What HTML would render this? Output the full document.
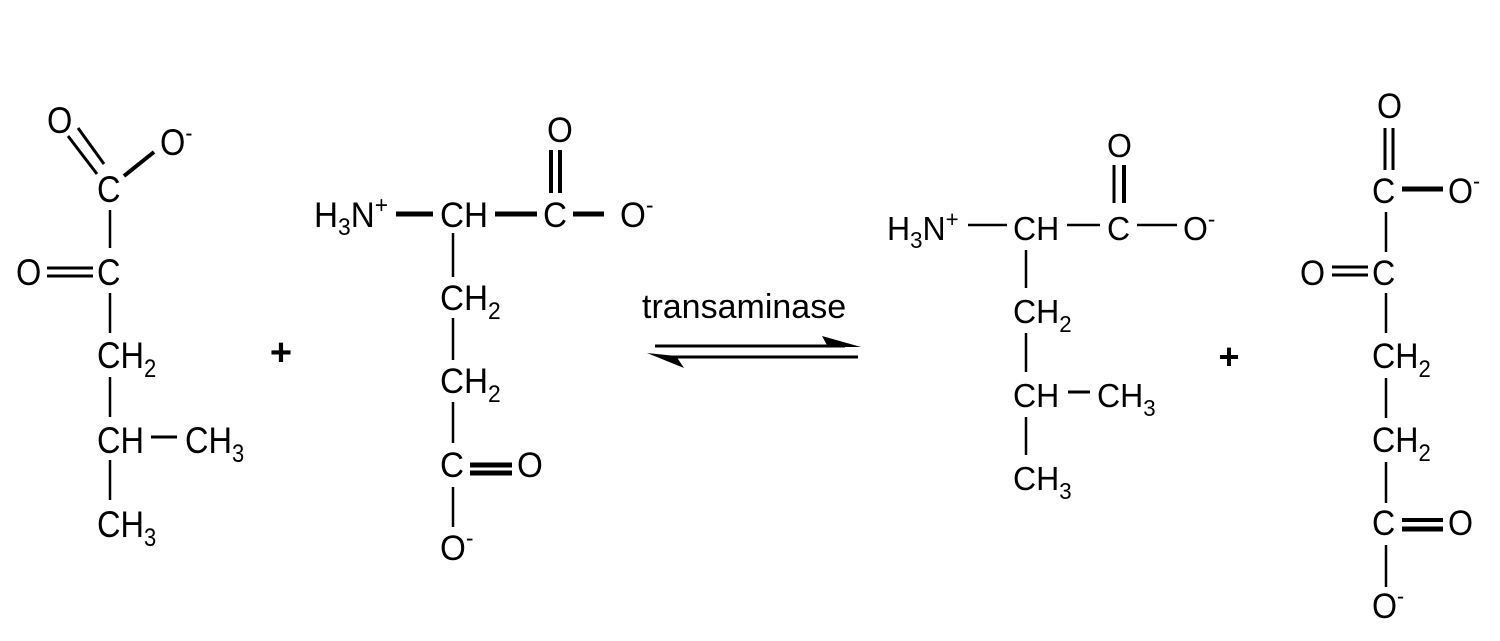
<!DOCTYPE html>
<html><head><meta charset="utf-8"><style>
html,body{margin:0;padding:0;background:#fff;}
svg{display:block;}
text{font-family:"Liberation Sans",Arial,sans-serif;fill:#000;}
.a text{font-size:37px;}
.b text{font-size:35px;}
.c text{font-size:33px;}
.d text{font-size:35px;}
line{stroke:#000;stroke-linecap:butt;}
</style></head><body>
<svg width="1500" height="641" viewBox="0 0 1500 641" xmlns="http://www.w3.org/2000/svg">
<rect width="1500" height="641" fill="#fff"/>

<!-- Molecule 1 -->
<g class="a">
<text transform="translate(47 133) scale(.88 1)">O</text>
<text transform="translate(160 155) scale(.88 1)">O<tspan font-size="24" dy="-14">-</tspan></text>
<text transform="translate(97 202) scale(.88 1)">C</text>
<text transform="translate(16 285) scale(.88 1)">O</text>
<text transform="translate(97 285) scale(.88 1)">C</text>
<text transform="translate(97 368) scale(.88 1)">CH<tspan font-size="25" dy="9">2</tspan></text>
<text transform="translate(97 453) scale(.88 1)">CH</text>
<text transform="translate(185 453) scale(.88 1)">CH<tspan font-size="25" dy="9">3</tspan></text>
<text transform="translate(97 537) scale(.88 1)">CH<tspan font-size="25" dy="9">3</tspan></text>
<line x1="68" y1="136" x2="97" y2="174" stroke-width="3"/>
<line x1="78" y1="128" x2="104" y2="164" stroke-width="3"/>
<line x1="124" y1="176" x2="154" y2="152" stroke-width="4"/>
<line x1="110" y1="210" x2="110" y2="248" stroke-width="2.5"/>
<line x1="47" y1="268" x2="93" y2="268" stroke-width="3"/>
<line x1="47" y1="276" x2="93" y2="276" stroke-width="3"/>
<line x1="110" y1="293" x2="110" y2="333" stroke-width="2.5"/>
<line x1="110" y1="377" x2="110" y2="417" stroke-width="2.5"/>
<line x1="151" y1="437" x2="177" y2="437" stroke-width="3"/>
<line x1="110" y1="460" x2="110" y2="500" stroke-width="2.5"/>
</g>

<text x="281" y="365" font-size="38" font-weight="bold" text-anchor="middle">+</text>

<!-- Molecule 2 -->
<g class="b">
<text transform="translate(314 227) scale(.95 1)">H<tspan font-size="24" dy="8">3</tspan><tspan dy="-8">N</tspan><tspan font-size="24" dy="-14">+</tspan></text>
<text transform="translate(440 227) scale(.95 1)">CH</text>
<text transform="translate(543 227) scale(.95 1)">C</text>
<text transform="translate(620 227) scale(.95 1)">O<tspan font-size="24" dy="-14">-</tspan></text>
<text transform="translate(547 142) scale(.95 1)">O</text>
<text transform="translate(440 310) scale(.95 1)">CH<tspan font-size="24" dy="9">2</tspan></text>
<text transform="translate(440 393) scale(.95 1)">CH<tspan font-size="24" dy="9">2</tspan></text>
<text transform="translate(440 477) scale(.95 1)">C</text>
<text transform="translate(517 477) scale(.95 1)">O</text>
<text transform="translate(440 560) scale(.95 1)">O<tspan font-size="24" dy="-14">-</tspan></text>
<line x1="396" y1="214" x2="433" y2="214" stroke-width="5"/>
<line x1="495" y1="214" x2="537" y2="214" stroke-width="5"/>
<line x1="573" y1="214" x2="604" y2="214" stroke-width="5"/>
<line x1="551" y1="150" x2="551" y2="193" stroke-width="4"/>
<line x1="560" y1="150" x2="560" y2="193" stroke-width="4"/>
<line x1="453" y1="233" x2="453" y2="277" stroke-width="2.5"/>
<line x1="453" y1="318" x2="453" y2="360" stroke-width="2.5"/>
<line x1="453" y1="402" x2="453" y2="443" stroke-width="2.5"/>
<line x1="453" y1="487" x2="453" y2="527" stroke-width="2.5"/>
<line x1="470" y1="465" x2="512" y2="465" stroke-width="5"/>
<line x1="470" y1="473" x2="512" y2="473" stroke-width="5"/>
</g>

<!-- Arrows -->
<text x="642" y="318" font-size="34">transaminase</text>
<line x1="655" y1="346" x2="845" y2="346" stroke-width="3"/>
<polygon points="822,336 861,347 828,347" fill="#000"/>
<line x1="668" y1="357" x2="858" y2="357" stroke-width="3"/>
<polygon points="647,353 684,368 676,356" fill="#000"/>

<!-- Molecule 3 -->
<g class="c">
<text transform="translate(887 240) scale(.97 1)">H<tspan font-size="23" dy="8">3</tspan><tspan dy="-8">N</tspan><tspan font-size="23" dy="-13">+</tspan></text>
<text transform="translate(1013 240) scale(.97 1)">CH</text>
<text transform="translate(1107 240) scale(.97 1)">C</text>
<text transform="translate(1183 240) scale(.97 1)">O<tspan font-size="23" dy="-13">-</tspan></text>
<text transform="translate(1107 157) scale(.97 1)">O</text>
<text transform="translate(1013 323) scale(.97 1)">CH<tspan font-size="23" dy="9">2</tspan></text>
<text transform="translate(1013 407) scale(.97 1)">CH</text>
<text transform="translate(1097 407) scale(.97 1)">CH<tspan font-size="23" dy="9">3</tspan></text>
<text transform="translate(1013 490) scale(.97 1)">CH<tspan font-size="23" dy="9">3</tspan></text>
<line x1="968" y1="225" x2="1007" y2="225" stroke-width="2.5"/>
<line x1="1067" y1="225" x2="1100" y2="225" stroke-width="2.5"/>
<line x1="1137" y1="225" x2="1177" y2="225" stroke-width="2.5"/>
<line x1="1114" y1="165" x2="1114" y2="203" stroke-width="3"/>
<line x1="1124" y1="165" x2="1124" y2="203" stroke-width="4"/>
<line x1="1026" y1="250" x2="1026" y2="288" stroke-width="2.5"/>
<line x1="1026" y1="333" x2="1026" y2="372" stroke-width="2.5"/>
<line x1="1026" y1="417" x2="1026" y2="455" stroke-width="2.5"/>
<line x1="1068" y1="392" x2="1090" y2="392" stroke-width="3"/>
</g>

<text x="1229" y="369" font-size="36" font-weight="bold" text-anchor="middle">+</text>

<!-- Molecule 4 -->
<g class="d">
<text transform="translate(1377 118) scale(.92 1)">O</text>
<text transform="translate(1372 203) scale(.92 1)">C</text>
<text transform="translate(1448 203) scale(.92 1)">O<tspan font-size="23" dy="-14">-</tspan></text>
<text transform="translate(1300 285) scale(.92 1)">O</text>
<text transform="translate(1372 285) scale(.92 1)">C</text>
<text transform="translate(1372 368) scale(.92 1)">CH<tspan font-size="24" dy="9">2</tspan></text>
<text transform="translate(1372 452) scale(.92 1)">CH<tspan font-size="24" dy="9">2</tspan></text>
<text transform="translate(1372 535) scale(.92 1)">C</text>
<text transform="translate(1448 535) scale(.92 1)">O</text>
<text transform="translate(1372 618) scale(.92 1)">O<tspan font-size="23" dy="-14">-</tspan></text>
<line x1="1385" y1="128" x2="1385" y2="170" stroke-width="3"/>
<line x1="1393" y1="128" x2="1393" y2="170" stroke-width="3"/>
<line x1="1402" y1="189" x2="1443" y2="189" stroke-width="5"/>
<line x1="1386" y1="212" x2="1386" y2="252" stroke-width="2.5"/>
<line x1="1332" y1="267" x2="1368" y2="267" stroke-width="3"/>
<line x1="1332" y1="275" x2="1368" y2="275" stroke-width="3"/>
<line x1="1386" y1="293" x2="1386" y2="333" stroke-width="2.5"/>
<line x1="1386" y1="378" x2="1386" y2="418" stroke-width="2.5"/>
<line x1="1386" y1="462" x2="1386" y2="503" stroke-width="2.5"/>
<line x1="1402" y1="520" x2="1443" y2="520" stroke-width="4"/>
<line x1="1402" y1="529" x2="1443" y2="529" stroke-width="5"/>
<line x1="1386" y1="545" x2="1386" y2="587" stroke-width="2.5"/>
</g>
</svg>
</body></html>
